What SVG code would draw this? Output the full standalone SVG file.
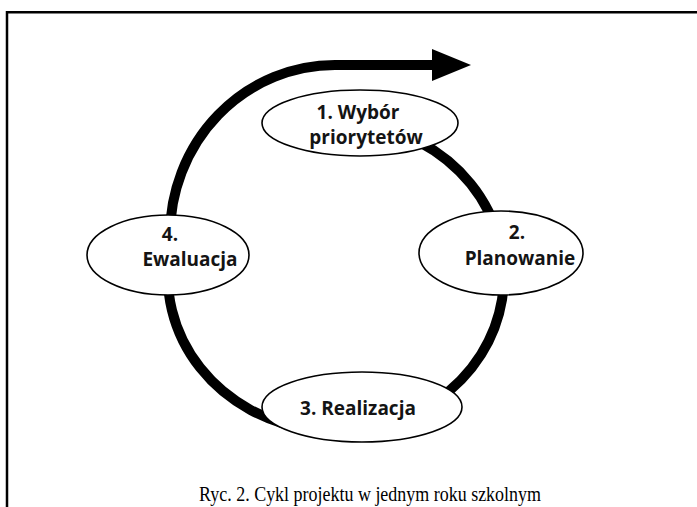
<svg xmlns="http://www.w3.org/2000/svg" width="697" height="507" viewBox="0 0 697 507">
  <style>
    .node ellipse { fill: #ffffff; stroke: #000000; stroke-width: 1.6; }
    .lbl { font-family: "Open Sans", Lato, "Liberation Sans", sans-serif; font-weight: bold; font-size: 19px; fill: #141414; text-anchor: middle; }
    .ring { fill: none; stroke: #000000; stroke-width: 10; }
    .cap { font-family: "Liberation Serif", "Times New Roman", serif; font-size: 20.5px; fill: #000; text-anchor: middle; }
  </style>
  <rect x="0" y="0" width="697" height="507" fill="#ffffff"/>
  <path d="M7,507 L7,12.3 L697,12.3" fill="none" stroke="#000" stroke-width="2.5"/>
  <g id="connectors">
    <path class="ring" d="M360,123 A168,155 0 1 1 170,252"/>
    <path class="ring" d="M170,255 L170,235 A165,170 0 0 1 335,65 L436,65"/>
    <polygon points="432,49 471,65 432,81" fill="#000"/>
  </g>
  <g id="node1" class="node">
    <ellipse cx="360" cy="123" rx="98" ry="33"/>
    <text class="lbl" x="358" y="119">1. Wybór</text>
    <text class="lbl" x="366" y="144">priorytetów</text>
  </g>
  <g id="node2" class="node">
    <ellipse cx="501" cy="253" rx="82" ry="42"/>
    <text class="lbl" x="517" y="239">2.</text>
    <text class="lbl" x="520" y="265">Planowanie</text>
  </g>
  <g id="node3" class="node">
    <ellipse cx="362" cy="407" rx="100" ry="35"/>
    <text class="lbl" x="358" y="415">3. Realizacja</text>
  </g>
  <g id="node4" class="node">
    <ellipse cx="168" cy="255" rx="81" ry="40"/>
    <text class="lbl" x="170" y="241">4.</text>
    <text class="lbl" x="190" y="266">Ewaluacja</text>
  </g>
  <text class="cap" x="370" y="501" textLength="342" lengthAdjust="spacingAndGlyphs">Ryc. 2. Cykl projektu w jednym roku szkolnym</text>
</svg>
